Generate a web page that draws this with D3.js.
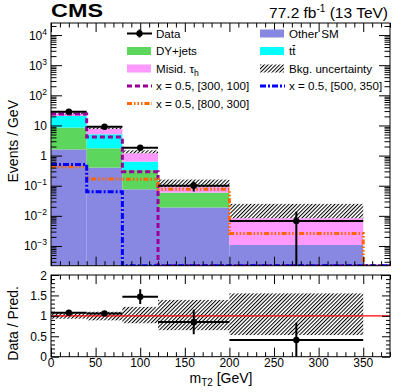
<!DOCTYPE html>
<html>
<head>
<meta charset="utf-8">
<script src="https://cdn.jsdelivr.net/npm/d3@7"></script>
<style>
  body { margin: 0; background: #fff; }
  svg { display: block; font-family: "Liberation Sans", Arial, Helvetica, sans-serif; }
</style>
</head>
<body>
<svg id="chart" width="411" height="392"></svg>
<script>
// values (events / GeV per bin)
const binEdges = [0, 40, 80, 120, 200, 350, 380];
const otherSM = [1.6, 0.40, 0.076, 0.019, 0.00108, 0];
const dyJets = [6.9, 1.35, 0.254, 0.040, 0, 0];
const ttbar = [12.1, 3.35, 0.30, 0, 0, 0];
const misid = [4.4, 2.7, 0.56, 0.030, 0.0072, 0];
const uncLo = [23.4, 7.6, 1.19, 0.089, 0.0083];
const uncHi = [27.0, 8.6, 1.50, 0.160, 0.025];
const sig300_100 = [24, 4.1, 0.29, 0, 0, 0];
const sig800_300 = [0.43, 0.168, 0.165, 0.076, 0.0026, 0];
const sig500_350 = [0.51, 0.063, 0, 0, 0, 0];
const dataVal = [28.7, 9.1, 1.83, 0.10, 0.0068];
const dataErr = [0.85, 0.48, 0.21, 0.036, 0.0068];
const ratioVal = [1.077, 1.06, 1.47, 0.85, 0.41];
const ratioErr = [0.03, 0.05, 0.18, 0.30, 0.42];
const ratioUncLo = [0.93, 0.89, 0.82, 0.65, 0.53];
const ratioUncHi = [1.08, 1.10, 1.22, 1.39, 1.55];
const xTicks = [0, 50, 100, 150, 200, 250, 300, 350];
const yExps = [-3, -2, -1, 0, 1, 2, 3, 4];
const ratioTicks = [0, 0.5, 1, 1.5, 2];

const colors = { otherSM: "#8888e2", dyJets: "#5cd65c", ttbar: "#00ffff", misid: "#ff99ff" };

let svg = d3.select("#chart");
let left = 51, right = 390;
let mainTop = 23, mainBottom = 265.7;
let ratTop = 275, ratBottom = 356.7;
let yMin = Math.pow(10, -3.654), yMax = Math.pow(10, 4.4);

let x = d3.scaleLinear().domain([0, 380]).range([left, right]);
let y = d3.scaleLog().domain([yMin, yMax]).range([mainBottom, mainTop]).clamp(true);
let yr = d3.scaleLinear().domain([0, 2]).range([ratBottom, ratTop]).clamp(true);
let yv = v => y(Math.max(v, yMin));

let defs = svg.append("defs");
defs.append("clipPath").attr("id", "clipMain")
  .append("rect").attr("x", left).attr("y", mainTop).attr("width", right - left).attr("height", mainBottom - mainTop);
defs.append("clipPath").attr("id", "clipRat")
  .append("rect").attr("x", left).attr("y", ratTop).attr("width", right - left).attr("height", ratBottom - ratTop);
let pat = defs.append("pattern").attr("id", "hatch")
  .attr("patternUnits", "userSpaceOnUse").attr("width", 2.7).attr("height", 10)
  .attr("patternTransform", "rotate(45)");
pat.append("line").attr("x1", 0.5).attr("y1", 0).attr("x2", 0.5).attr("y2", 10)
  .attr("stroke", "#000").attr("stroke-width", 1);

// ---------- main panel ----------
let g = svg.append("g").attr("clip-path", "url(#clipMain)");

let rows = binEdges.slice(0, -1).map((lo, i) => ({
  lo: lo, hi: binEdges[i + 1],
  otherSM: otherSM[i], dyJets: dyJets[i], ttbar: ttbar[i], misid: misid[i]
}));
let stacked = d3.stack().keys(["otherSM", "dyJets", "ttbar", "misid"])(rows);

stacked.forEach(layer => {
  g.selectAll(".s-" + layer.key)
    .data(layer.filter(d => d[1] > d[0]))
    .enter().append("rect")
    .attr("x", d => x(d.data.lo))
    .attr("width", d => x(d.data.hi) - x(d.data.lo))
    .attr("y", d => yv(d[1]))
    .attr("height", d => yv(d[0]) - yv(d[1]))
    .attr("fill", colors[layer.key]);
});

g.selectAll(".unc")
  .data(uncLo)
  .enter().append("rect")
  .attr("x", (d, i) => x(binEdges[i]))
  .attr("width", (d, i) => x(binEdges[i + 1]) - x(binEdges[i]))
  .attr("y", (d, i) => yv(uncHi[i]))
  .attr("height", (d, i) => yv(uncLo[i]) - yv(uncHi[i]))
  .attr("fill", "url(#hatch)");

function histPoints(vals) {
  let pts = [];
  vals.forEach((v, i) => { pts.push([binEdges[i], v]); pts.push([binEdges[i + 1], v]); });
  return pts;
}
let histLine = d3.line().x(d => x(d[0])).y(d => yv(d[1]));

let signals = [
  { vals: sig300_100, color: "#990099", dash: "5,3" },
  { vals: sig800_300, color: "#ff6600", dash: "5,2,1.5,2,1.5,2,1.5,2" },
  { vals: sig500_350, color: "#0000ff", dash: "6,2,2,2" }
];
signals.forEach(s => {
  g.append("path")
    .attr("d", histLine(histPoints(s.vals)))
    .attr("fill", "none")
    .attr("stroke", s.color)
    .attr("stroke-width", 3)
    .attr("stroke-dasharray", s.dash);
});

// data points
let dataG = g.append("g");
dataVal.forEach((v, i) => {
  let cx = x((binEdges[i] + binEdges[i + 1]) / 2);
  dataG.append("line")
    .attr("x1", x(binEdges[i])).attr("x2", x(binEdges[i + 1]))
    .attr("y1", yv(v)).attr("y2", yv(v))
    .attr("stroke", "#000").attr("stroke-width", 2);
  dataG.append("line")
    .attr("x1", cx).attr("x2", cx)
    .attr("y1", yv(v + dataErr[i])).attr("y2", yv(v - dataErr[i]))
    .attr("stroke", "#000").attr("stroke-width", 2);
  dataG.append("circle").attr("cx", cx).attr("cy", yv(v)).attr("r", 3.2).attr("fill", "#000");
});

// ---------- ratio panel ----------
let rg = svg.append("g").attr("clip-path", "url(#clipRat)");
rg.selectAll(".runc")
  .data(ratioUncLo)
  .enter().append("rect")
  .attr("x", (d, i) => x(binEdges[i]))
  .attr("width", (d, i) => x(binEdges[i + 1]) - x(binEdges[i]))
  .attr("y", (d, i) => yr(ratioUncHi[i]))
  .attr("height", (d, i) => yr(ratioUncLo[i]) - yr(ratioUncHi[i]))
  .attr("fill", "url(#hatch)");
rg.append("line")
  .attr("x1", left).attr("x2", right).attr("y1", yr(1)).attr("y2", yr(1))
  .attr("stroke", "#ff0000").attr("stroke-width", 1.2);
ratioVal.forEach((v, i) => {
  let cx = x((binEdges[i] + binEdges[i + 1]) / 2);
  rg.append("line")
    .attr("x1", x(binEdges[i])).attr("x2", x(binEdges[i + 1]))
    .attr("y1", yr(v)).attr("y2", yr(v))
    .attr("stroke", "#000").attr("stroke-width", 2);
  rg.append("line")
    .attr("x1", cx).attr("x2", cx)
    .attr("y1", yr(v + ratioErr[i])).attr("y2", yr(v - ratioErr[i]))
    .attr("stroke", "#000").attr("stroke-width", 2);
  rg.append("circle").attr("cx", cx).attr("cy", yr(v)).attr("r", 3.2).attr("fill", "#000");
});

// ---------- axes (ROOT style, ticks inside) ----------
function tickAxis(axisGen, tr) {
  let a = svg.append("g").attr("transform", tr).call(axisGen);
  a.select(".domain").remove();
  a.selectAll(".tick text").remove();
  a.selectAll(".tick line").attr("stroke", "#000").attr("stroke-width", 1);
  return a;
}
let xMinor = d3.range(0, 381, 10).filter(v => v % 50 !== 0);
let logMinor = [];
d3.range(-4, 5).forEach(e => d3.range(2, 10).forEach(m => {
  let v = m * Math.pow(10, e);
  if (v > yMin && v < yMax) logMinor.push(v);
}));
let logMajor = yExps.map(e => Math.pow(10, e));
let ratMinor = d3.range(0, 2.001, 0.1).filter(v => Math.abs(v * 2 - Math.round(v * 2)) > 1e-6);

// main panel
tickAxis(d3.axisBottom(x).tickValues(xTicks).tickSize(-9), `translate(0,${mainBottom})`);
tickAxis(d3.axisBottom(x).tickValues(xMinor).tickSize(-4.5), `translate(0,${mainBottom})`);
tickAxis(d3.axisTop(x).tickValues(xTicks).tickSize(-9), `translate(0,${mainTop})`);
tickAxis(d3.axisTop(x).tickValues(xMinor).tickSize(-4.5), `translate(0,${mainTop})`);
tickAxis(d3.axisLeft(y).tickValues(logMajor).tickSize(-11), `translate(${left},0)`);
tickAxis(d3.axisLeft(y).tickValues(logMinor).tickSize(-5.5), `translate(${left},0)`);
tickAxis(d3.axisRight(y).tickValues(logMajor).tickSize(-11), `translate(${right},0)`);
tickAxis(d3.axisRight(y).tickValues(logMinor).tickSize(-5.5), `translate(${right},0)`);

// ratio panel
tickAxis(d3.axisBottom(x).tickValues(xTicks).tickSize(-9), `translate(0,${ratBottom})`);
tickAxis(d3.axisBottom(x).tickValues(xMinor).tickSize(-4.5), `translate(0,${ratBottom})`);
tickAxis(d3.axisTop(x).tickValues(xTicks).tickSize(-9), `translate(0,${ratTop})`);
tickAxis(d3.axisTop(x).tickValues(xMinor).tickSize(-4.5), `translate(0,${ratTop})`);
tickAxis(d3.axisLeft(yr).tickValues(ratioTicks).tickSize(-8), `translate(${left},0)`);
tickAxis(d3.axisLeft(yr).tickValues(ratMinor).tickSize(-4), `translate(${left},0)`);
tickAxis(d3.axisRight(yr).tickValues(ratioTicks).tickSize(-8), `translate(${right},0)`);
tickAxis(d3.axisRight(yr).tickValues(ratMinor).tickSize(-4), `translate(${right},0)`);

// frames
[[mainTop, mainBottom], [ratTop, ratBottom]].forEach(f => {
  svg.append("rect")
    .attr("x", left).attr("y", f[0]).attr("width", right - left).attr("height", f[1] - f[0])
    .attr("fill", "none").attr("stroke", "#000").attr("stroke-width", 1);
});

// tick labels
let tickFont = 12;
yExps.forEach(e => {
  let t = svg.append("text")
    .attr("x", left - 4).attr("y", y(Math.pow(10, e)) + 4.5)
    .attr("text-anchor", "end").attr("font-size", tickFont);
  if (e === 0) t.text("1");
  else if (e === 1) t.text("10");
  else {
    t.append("tspan").text("10");
    t.append("tspan").attr("font-size", 8.5).attr("dy", -5).text(e < 0 ? "\u2212" + (-e) : String(e));
  }
});
ratioTicks.forEach(v => {
  svg.append("text")
    .attr("x", left - 4).attr("y", yr(v) + 4.5)
    .attr("text-anchor", "end").attr("font-size", tickFont)
    .text(d3.format("~g")(v));
});
xTicks.forEach(v => {
  svg.append("text")
    .attr("x", x(v)).attr("y", 367)
    .attr("text-anchor", "middle").attr("font-size", tickFont)
    .text(v);
});

// axis titles
svg.append("text")
  .attr("transform", "translate(18,100) rotate(-90)")
  .attr("text-anchor", "end").attr("font-size", 14)
  .text("Events / GeV");
svg.append("text")
  .attr("transform", "translate(18,286) rotate(-90)")
  .attr("text-anchor", "end").attr("font-size", 14)
  .text("Data / Pred.");
let xt = svg.append("text")
  .attr("x", 221).attr("y", 383)
  .attr("text-anchor", "middle").attr("font-size", 14);
xt.append("tspan").text("m");
xt.append("tspan").attr("font-size", 10).attr("dy", 3).text("T2");
xt.append("tspan").attr("dy", -3).text(" [GeV]");

// header
svg.append("text")
  .attr("x", left).attr("y", 17)
  .attr("font-size", 18.5).attr("font-weight", "bold")
  .attr("textLength", 52).attr("lengthAdjust", "spacingAndGlyphs")
  .text("CMS");
let lumi = svg.append("text")
  .attr("x", 388).attr("y", 17.5)
  .attr("text-anchor", "end").attr("font-size", 15.5);
lumi.append("tspan").text("77.2 fb");
lumi.append("tspan").attr("font-size", 10).attr("dy", -6).text("-1");
lumi.append("tspan").attr("dy", 6).text(" (13 TeV)");

// ---------- legend ----------
let legRows = [33.5, 51, 68.5, 86, 103.5];
let col1 = 127, col2 = 260, symW = 25, legFont = 11.6;
let leg = svg.append("g").attr("font-size", legFont);

function legText(xp, yc) {
  return leg.append("text").attr("x", xp + symW + 4).attr("y", yc + 4.2);
}
function legBox(xp, yc, fill) {
  leg.append("rect").attr("x", xp).attr("y", yc - 4).attr("width", symW - 1).attr("height", 8).attr("fill", fill);
}
function legLine(xp, yc, s) {
  leg.append("line").attr("x1", xp).attr("x2", xp + symW).attr("y1", yc).attr("y2", yc)
    .attr("stroke", s.color).attr("stroke-width", 3).attr("stroke-dasharray", s.dash);
}

// Data
leg.append("line").attr("x1", col1).attr("x2", col1 + symW).attr("y1", legRows[0]).attr("y2", legRows[0])
  .attr("stroke", "#000").attr("stroke-width", 2);
leg.append("line").attr("x1", col1 + symW / 2).attr("x2", col1 + symW / 2)
  .attr("y1", legRows[0] - 4).attr("y2", legRows[0] + 4).attr("stroke", "#000").attr("stroke-width", 2);
leg.append("circle").attr("cx", col1 + symW / 2).attr("cy", legRows[0]).attr("r", 3.2).attr("fill", "#000");
legText(col1, legRows[0]).text("Data");

legBox(col2, legRows[0], colors.otherSM);
legText(col2, legRows[0]).text("Other SM");

legBox(col1, legRows[1], colors.dyJets);
legText(col1, legRows[1]).text("DY+jets");

legBox(col2, legRows[1], colors.ttbar);
let ttT = legText(col2, legRows[1]).text("tt");
let tw = ttT.node().getComputedTextLength();
leg.append("line")
  .attr("x1", col2 + symW + 4 + tw / 2 + 0.3).attr("x2", col2 + symW + 4 + tw - 0.3)
  .attr("y1", legRows[1] - 5.4).attr("y2", legRows[1] - 5.4)
  .attr("stroke", "#000").attr("stroke-width", 1);

legBox(col1, legRows[2], colors.misid);
let mt = legText(col1, legRows[2]);
mt.append("tspan").text("Misid.  \u03c4");
mt.append("tspan").attr("font-size", 8.5).attr("dy", 3).text("h");

leg.append("rect").attr("x", col2).attr("y", legRows[2] - 4).attr("width", symW - 1).attr("height", 8)
  .attr("fill", "url(#hatch)");
legText(col2, legRows[2]).text("Bkg. uncertainty");

legLine(col1, legRows[3], signals[0]);
legText(col1, legRows[3]).text("x = 0.5, [300, 100]");

legLine(col2, legRows[3], signals[2]);
legText(col2, legRows[3]).text("x = 0.5, [500, 350]");

legLine(col1, legRows[4], signals[1]);
legText(col1, legRows[4]).text("x = 0.5, [800, 300]");
</script>
</body>
</html>
